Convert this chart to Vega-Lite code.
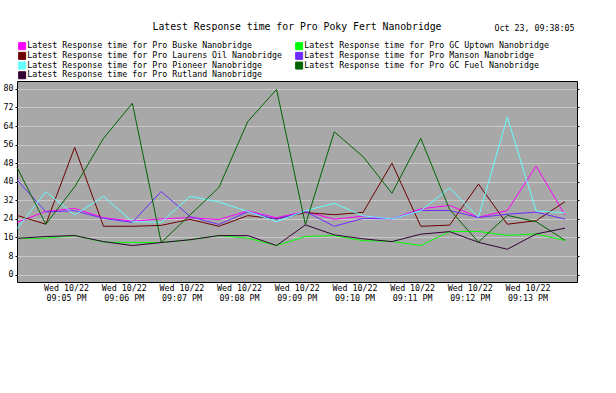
{
"$schema": "https://vega.github.io/schema/vega-lite/v6.json",
"width": 560, "height": 201,
"autosize": {"type": "none"},
"padding": {"left": 17, "top": 81, "right": 39, "bottom": 111},
"background": "white",
"title": {"text": "Latest Response time for Pro Poky Fert Nanobridge", "font": "DejaVu Sans Mono", "fontSize": 9.8, "fontWeight": "normal", "color": "black", "anchor": "middle", "offset": -9},
"config": {"view": {"fill": "#a8a8a8", "stroke": "black", "strokeWidth": 1}, "font": "DejaVu Sans Mono"},
"datasets": {"d": [
{"series":"Latest Response time for Pro Buske Nanobridge","time":"2025-10-22T21:04:09Z","value":22.5},
{"series":"Latest Response time for Pro Buske Nanobridge","time":"2025-10-22T21:04:39Z","value":27.2},
{"series":"Latest Response time for Pro Buske Nanobridge","time":"2025-10-22T21:05:09Z","value":28.5},
{"series":"Latest Response time for Pro Buske Nanobridge","time":"2025-10-22T21:05:39Z","value":24.5},
{"series":"Latest Response time for Pro Buske Nanobridge","time":"2025-10-22T21:06:09Z","value":23},
{"series":"Latest Response time for Pro Buske Nanobridge","time":"2025-10-22T21:06:39Z","value":24},
{"series":"Latest Response time for Pro Buske Nanobridge","time":"2025-10-22T21:07:09Z","value":24.5},
{"series":"Latest Response time for Pro Buske Nanobridge","time":"2025-10-22T21:07:39Z","value":23.7},
{"series":"Latest Response time for Pro Buske Nanobridge","time":"2025-10-22T21:08:09Z","value":27.4},
{"series":"Latest Response time for Pro Buske Nanobridge","time":"2025-10-22T21:08:39Z","value":24.5},
{"series":"Latest Response time for Pro Buske Nanobridge","time":"2025-10-22T21:09:09Z","value":27.2},
{"series":"Latest Response time for Pro Buske Nanobridge","time":"2025-10-22T21:09:39Z","value":23.8},
{"series":"Latest Response time for Pro Buske Nanobridge","time":"2025-10-22T21:10:09Z","value":25.2},
{"series":"Latest Response time for Pro Buske Nanobridge","time":"2025-10-22T21:10:39Z","value":24},
{"series":"Latest Response time for Pro Buske Nanobridge","time":"2025-10-22T21:11:09Z","value":28.3},
{"series":"Latest Response time for Pro Buske Nanobridge","time":"2025-10-22T21:11:39Z","value":29.8},
{"series":"Latest Response time for Pro Buske Nanobridge","time":"2025-10-22T21:12:09Z","value":24.7},
{"series":"Latest Response time for Pro Buske Nanobridge","time":"2025-10-22T21:12:39Z","value":27.6},
{"series":"Latest Response time for Pro Buske Nanobridge","time":"2025-10-22T21:13:09Z","value":46.7},
{"series":"Latest Response time for Pro Buske Nanobridge","time":"2025-10-22T21:13:39Z","value":25.7},
{"series":"Latest Response time for Pro GC Uptown Nanobridge","time":"2025-10-22T21:04:09Z","value":15.6},
{"series":"Latest Response time for Pro GC Uptown Nanobridge","time":"2025-10-22T21:04:39Z","value":15.7},
{"series":"Latest Response time for Pro GC Uptown Nanobridge","time":"2025-10-22T21:05:09Z","value":16.8},
{"series":"Latest Response time for Pro GC Uptown Nanobridge","time":"2025-10-22T21:05:39Z","value":14},
{"series":"Latest Response time for Pro GC Uptown Nanobridge","time":"2025-10-22T21:06:09Z","value":13.8},
{"series":"Latest Response time for Pro GC Uptown Nanobridge","time":"2025-10-22T21:06:39Z","value":13.8},
{"series":"Latest Response time for Pro GC Uptown Nanobridge","time":"2025-10-22T21:07:09Z","value":15},
{"series":"Latest Response time for Pro GC Uptown Nanobridge","time":"2025-10-22T21:07:39Z","value":16.8},
{"series":"Latest Response time for Pro GC Uptown Nanobridge","time":"2025-10-22T21:08:09Z","value":15.7},
{"series":"Latest Response time for Pro GC Uptown Nanobridge","time":"2025-10-22T21:08:39Z","value":12.5},
{"series":"Latest Response time for Pro GC Uptown Nanobridge","time":"2025-10-22T21:09:09Z","value":16.4},
{"series":"Latest Response time for Pro GC Uptown Nanobridge","time":"2025-10-22T21:09:39Z","value":16.8},
{"series":"Latest Response time for Pro GC Uptown Nanobridge","time":"2025-10-22T21:10:09Z","value":14.6},
{"series":"Latest Response time for Pro GC Uptown Nanobridge","time":"2025-10-22T21:10:39Z","value":14.3},
{"series":"Latest Response time for Pro GC Uptown Nanobridge","time":"2025-10-22T21:11:09Z","value":12.5},
{"series":"Latest Response time for Pro GC Uptown Nanobridge","time":"2025-10-22T21:11:39Z","value":18.5},
{"series":"Latest Response time for Pro GC Uptown Nanobridge","time":"2025-10-22T21:12:09Z","value":18.6},
{"series":"Latest Response time for Pro GC Uptown Nanobridge","time":"2025-10-22T21:12:39Z","value":16.9},
{"series":"Latest Response time for Pro GC Uptown Nanobridge","time":"2025-10-22T21:13:09Z","value":17.5},
{"series":"Latest Response time for Pro GC Uptown Nanobridge","time":"2025-10-22T21:13:39Z","value":14.7},
{"series":"Latest Response time for Pro Laurens Oil Nanobridge","time":"2025-10-22T21:04:09Z","value":25.5},
{"series":"Latest Response time for Pro Laurens Oil Nanobridge","time":"2025-10-22T21:04:39Z","value":21.7},
{"series":"Latest Response time for Pro Laurens Oil Nanobridge","time":"2025-10-22T21:05:09Z","value":54.8},
{"series":"Latest Response time for Pro Laurens Oil Nanobridge","time":"2025-10-22T21:05:39Z","value":20.8},
{"series":"Latest Response time for Pro Laurens Oil Nanobridge","time":"2025-10-22T21:06:09Z","value":20.8},
{"series":"Latest Response time for Pro Laurens Oil Nanobridge","time":"2025-10-22T21:06:39Z","value":21.2},
{"series":"Latest Response time for Pro Laurens Oil Nanobridge","time":"2025-10-22T21:07:09Z","value":23.8},
{"series":"Latest Response time for Pro Laurens Oil Nanobridge","time":"2025-10-22T21:07:39Z","value":20.8},
{"series":"Latest Response time for Pro Laurens Oil Nanobridge","time":"2025-10-22T21:08:09Z","value":25.4},
{"series":"Latest Response time for Pro Laurens Oil Nanobridge","time":"2025-10-22T21:08:39Z","value":24},
{"series":"Latest Response time for Pro Laurens Oil Nanobridge","time":"2025-10-22T21:09:09Z","value":26.7},
{"series":"Latest Response time for Pro Laurens Oil Nanobridge","time":"2025-10-22T21:09:39Z","value":25.8},
{"series":"Latest Response time for Pro Laurens Oil Nanobridge","time":"2025-10-22T21:10:09Z","value":26.8},
{"series":"Latest Response time for Pro Laurens Oil Nanobridge","time":"2025-10-22T21:10:39Z","value":48},
{"series":"Latest Response time for Pro Laurens Oil Nanobridge","time":"2025-10-22T21:11:09Z","value":20.8},
{"series":"Latest Response time for Pro Laurens Oil Nanobridge","time":"2025-10-22T21:11:39Z","value":21.3},
{"series":"Latest Response time for Pro Laurens Oil Nanobridge","time":"2025-10-22T21:12:09Z","value":39},
{"series":"Latest Response time for Pro Laurens Oil Nanobridge","time":"2025-10-22T21:12:39Z","value":21.7},
{"series":"Latest Response time for Pro Laurens Oil Nanobridge","time":"2025-10-22T21:13:09Z","value":23.2},
{"series":"Latest Response time for Pro Laurens Oil Nanobridge","time":"2025-10-22T21:13:39Z","value":31.4},
{"series":"Latest Response time for Pro Manson Nanobridge","time":"2025-10-22T21:04:09Z","value":40.8},
{"series":"Latest Response time for Pro Manson Nanobridge","time":"2025-10-22T21:04:39Z","value":27},
{"series":"Latest Response time for Pro Manson Nanobridge","time":"2025-10-22T21:05:09Z","value":27.5},
{"series":"Latest Response time for Pro Manson Nanobridge","time":"2025-10-22T21:05:39Z","value":24.2},
{"series":"Latest Response time for Pro Manson Nanobridge","time":"2025-10-22T21:06:09Z","value":22.5},
{"series":"Latest Response time for Pro Manson Nanobridge","time":"2025-10-22T21:06:39Z","value":35.8},
{"series":"Latest Response time for Pro Manson Nanobridge","time":"2025-10-22T21:07:09Z","value":25},
{"series":"Latest Response time for Pro Manson Nanobridge","time":"2025-10-22T21:07:39Z","value":21.6},
{"series":"Latest Response time for Pro Manson Nanobridge","time":"2025-10-22T21:08:09Z","value":27},
{"series":"Latest Response time for Pro Manson Nanobridge","time":"2025-10-22T21:08:39Z","value":23.8},
{"series":"Latest Response time for Pro Manson Nanobridge","time":"2025-10-22T21:09:09Z","value":27.2},
{"series":"Latest Response time for Pro Manson Nanobridge","time":"2025-10-22T21:09:39Z","value":20.8},
{"series":"Latest Response time for Pro Manson Nanobridge","time":"2025-10-22T21:10:09Z","value":24.2},
{"series":"Latest Response time for Pro Manson Nanobridge","time":"2025-10-22T21:10:39Z","value":24},
{"series":"Latest Response time for Pro Manson Nanobridge","time":"2025-10-22T21:11:09Z","value":27.6},
{"series":"Latest Response time for Pro Manson Nanobridge","time":"2025-10-22T21:11:39Z","value":27.6},
{"series":"Latest Response time for Pro Manson Nanobridge","time":"2025-10-22T21:12:09Z","value":24.6},
{"series":"Latest Response time for Pro Manson Nanobridge","time":"2025-10-22T21:12:39Z","value":26},
{"series":"Latest Response time for Pro Manson Nanobridge","time":"2025-10-22T21:13:09Z","value":26.9},
{"series":"Latest Response time for Pro Manson Nanobridge","time":"2025-10-22T21:13:39Z","value":23.9},
{"series":"Latest Response time for Pro Pioneer Nanobridge","time":"2025-10-22T21:04:09Z","value":19.8},
{"series":"Latest Response time for Pro Pioneer Nanobridge","time":"2025-10-22T21:04:39Z","value":35.7},
{"series":"Latest Response time for Pro Pioneer Nanobridge","time":"2025-10-22T21:05:09Z","value":25.7},
{"series":"Latest Response time for Pro Pioneer Nanobridge","time":"2025-10-22T21:05:39Z","value":33.7},
{"series":"Latest Response time for Pro Pioneer Nanobridge","time":"2025-10-22T21:06:09Z","value":22.8},
{"series":"Latest Response time for Pro Pioneer Nanobridge","time":"2025-10-22T21:06:39Z","value":22.5},
{"series":"Latest Response time for Pro Pioneer Nanobridge","time":"2025-10-22T21:07:09Z","value":33.7},
{"series":"Latest Response time for Pro Pioneer Nanobridge","time":"2025-10-22T21:07:39Z","value":31.3},
{"series":"Latest Response time for Pro Pioneer Nanobridge","time":"2025-10-22T21:08:09Z","value":27.2},
{"series":"Latest Response time for Pro Pioneer Nanobridge","time":"2025-10-22T21:08:39Z","value":22.8},
{"series":"Latest Response time for Pro Pioneer Nanobridge","time":"2025-10-22T21:09:09Z","value":27.5},
{"series":"Latest Response time for Pro Pioneer Nanobridge","time":"2025-10-22T21:09:39Z","value":30.7},
{"series":"Latest Response time for Pro Pioneer Nanobridge","time":"2025-10-22T21:10:09Z","value":25.3},
{"series":"Latest Response time for Pro Pioneer Nanobridge","time":"2025-10-22T21:10:39Z","value":24},
{"series":"Latest Response time for Pro Pioneer Nanobridge","time":"2025-10-22T21:11:09Z","value":27.5},
{"series":"Latest Response time for Pro Pioneer Nanobridge","time":"2025-10-22T21:11:39Z","value":37.3},
{"series":"Latest Response time for Pro Pioneer Nanobridge","time":"2025-10-22T21:12:09Z","value":24.7},
{"series":"Latest Response time for Pro Pioneer Nanobridge","time":"2025-10-22T21:12:39Z","value":67.8},
{"series":"Latest Response time for Pro Pioneer Nanobridge","time":"2025-10-22T21:13:09Z","value":27.4},
{"series":"Latest Response time for Pro Pioneer Nanobridge","time":"2025-10-22T21:13:39Z","value":26.6},
{"series":"Latest Response time for Pro GC Fuel Nanobridge","time":"2025-10-22T21:04:09Z","value":46.2},
{"series":"Latest Response time for Pro GC Fuel Nanobridge","time":"2025-10-22T21:04:39Z","value":21.7},
{"series":"Latest Response time for Pro GC Fuel Nanobridge","time":"2025-10-22T21:05:09Z","value":37.8},
{"series":"Latest Response time for Pro GC Fuel Nanobridge","time":"2025-10-22T21:05:39Z","value":58.7},
{"series":"Latest Response time for Pro GC Fuel Nanobridge","time":"2025-10-22T21:06:09Z","value":73.8},
{"series":"Latest Response time for Pro GC Fuel Nanobridge","time":"2025-10-22T21:06:39Z","value":13.8},
{"series":"Latest Response time for Pro GC Fuel Nanobridge","time":"2025-10-22T21:07:09Z","value":25.7},
{"series":"Latest Response time for Pro GC Fuel Nanobridge","time":"2025-10-22T21:07:39Z","value":37.5},
{"series":"Latest Response time for Pro GC Fuel Nanobridge","time":"2025-10-22T21:08:09Z","value":65.9},
{"series":"Latest Response time for Pro GC Fuel Nanobridge","time":"2025-10-22T21:08:39Z","value":79.8},
{"series":"Latest Response time for Pro GC Fuel Nanobridge","time":"2025-10-22T21:09:09Z","value":21.5},
{"series":"Latest Response time for Pro GC Fuel Nanobridge","time":"2025-10-22T21:09:39Z","value":61.5},
{"series":"Latest Response time for Pro GC Fuel Nanobridge","time":"2025-10-22T21:10:09Z","value":50.8},
{"series":"Latest Response time for Pro GC Fuel Nanobridge","time":"2025-10-22T21:10:39Z","value":35},
{"series":"Latest Response time for Pro GC Fuel Nanobridge","time":"2025-10-22T21:11:09Z","value":58.7},
{"series":"Latest Response time for Pro GC Fuel Nanobridge","time":"2025-10-22T21:11:39Z","value":28},
{"series":"Latest Response time for Pro GC Fuel Nanobridge","time":"2025-10-22T21:12:09Z","value":14},
{"series":"Latest Response time for Pro GC Fuel Nanobridge","time":"2025-10-22T21:12:39Z","value":25.5},
{"series":"Latest Response time for Pro GC Fuel Nanobridge","time":"2025-10-22T21:13:09Z","value":22.8},
{"series":"Latest Response time for Pro GC Fuel Nanobridge","time":"2025-10-22T21:13:39Z","value":14.8},
{"series":"Latest Response time for Pro Rutland Nanobridge","time":"2025-10-22T21:04:09Z","value":15.6},
{"series":"Latest Response time for Pro Rutland Nanobridge","time":"2025-10-22T21:04:39Z","value":16.4},
{"series":"Latest Response time for Pro Rutland Nanobridge","time":"2025-10-22T21:05:09Z","value":16.8},
{"series":"Latest Response time for Pro Rutland Nanobridge","time":"2025-10-22T21:05:39Z","value":14.2},
{"series":"Latest Response time for Pro Rutland Nanobridge","time":"2025-10-22T21:06:09Z","value":12.5},
{"series":"Latest Response time for Pro Rutland Nanobridge","time":"2025-10-22T21:06:39Z","value":13.8},
{"series":"Latest Response time for Pro Rutland Nanobridge","time":"2025-10-22T21:07:09Z","value":15},
{"series":"Latest Response time for Pro Rutland Nanobridge","time":"2025-10-22T21:07:39Z","value":16.8},
{"series":"Latest Response time for Pro Rutland Nanobridge","time":"2025-10-22T21:08:09Z","value":16.8},
{"series":"Latest Response time for Pro Rutland Nanobridge","time":"2025-10-22T21:08:39Z","value":12.5},
{"series":"Latest Response time for Pro Rutland Nanobridge","time":"2025-10-22T21:09:09Z","value":21.4},
{"series":"Latest Response time for Pro Rutland Nanobridge","time":"2025-10-22T21:09:39Z","value":17.1},
{"series":"Latest Response time for Pro Rutland Nanobridge","time":"2025-10-22T21:10:09Z","value":15.4},
{"series":"Latest Response time for Pro Rutland Nanobridge","time":"2025-10-22T21:10:39Z","value":14.2},
{"series":"Latest Response time for Pro Rutland Nanobridge","time":"2025-10-22T21:11:09Z","value":17.4},
{"series":"Latest Response time for Pro Rutland Nanobridge","time":"2025-10-22T21:11:39Z","value":18.5},
{"series":"Latest Response time for Pro Rutland Nanobridge","time":"2025-10-22T21:12:09Z","value":13.9},
{"series":"Latest Response time for Pro Rutland Nanobridge","time":"2025-10-22T21:12:39Z","value":10.9},
{"series":"Latest Response time for Pro Rutland Nanobridge","time":"2025-10-22T21:13:09Z","value":17.5},
{"series":"Latest Response time for Pro Rutland Nanobridge","time":"2025-10-22T21:13:39Z","value":20}
]},
"data": {"name": "d"},
"layer": [
 {"mark": {"type": "line", "strokeWidth": 1},
  "encoding": {
  "x": {"field": "time", "type": "temporal",
    "scale": {"type": "utc", "domain": [{"year": 2025, "month": 10, "date": 22, "hours": 21, "minutes": 4, "seconds": 9, "utc": true}, {"year": 2025, "month": 10, "date": 22, "hours": 21, "minutes": 13, "seconds": 51, "milliseconds": 500, "utc": true}]},
    "axis": {"orient": "bottom", "values": [
      {"year": 2025, "month": 10, "date": 22, "hours": 21, "minutes": 5, "utc": true},
      {"year": 2025, "month": 10, "date": 22, "hours": 21, "minutes": 6, "utc": true},
      {"year": 2025, "month": 10, "date": 22, "hours": 21, "minutes": 7, "utc": true},
      {"year": 2025, "month": 10, "date": 22, "hours": 21, "minutes": 8, "utc": true},
      {"year": 2025, "month": 10, "date": 22, "hours": 21, "minutes": 9, "utc": true},
      {"year": 2025, "month": 10, "date": 22, "hours": 21, "minutes": 10, "utc": true},
      {"year": 2025, "month": 10, "date": 22, "hours": 21, "minutes": 11, "utc": true},
      {"year": 2025, "month": 10, "date": 22, "hours": 21, "minutes": 12, "utc": true},
      {"year": 2025, "month": 10, "date": 22, "hours": 21, "minutes": 13, "utc": true}],
      "format": "%a %m/%d", "labelFont": "DejaVu Sans Mono", "labelFontSize": 8.3, "labelColor": "black", "labelPadding": 1, "ticks": false, "grid": false, "domain": false,
      "title": "Oct 23, 09:38:05", "titleFont": "DejaVu Sans Mono", "titleFontSize": 8.3, "titleFontWeight": "normal", "titleColor": "black", "titleAlign": "right", "titleBaseline": "middle", "titleX": 557, "titleY": -254}},
  "y": {"field": "value", "type": "quantitative", "scale": {"domain": [-3.2, 83.4], "nice": false, "zero": false},
    "axis": {"orient": "left", "values": [0, 8, 16, 24, 32, 40, 48, 56, 64, 72, 80], "grid": true, "gridColor": "#c8c8c8", "gridWidth": 1, "gridOpacity": 1, "domain": false, "ticks": true, "tickSize": 2, "tickColor": "black", "labelFont": "DejaVu Sans Mono", "labelFontSize": 8.3, "labelColor": "black", "labelPadding": 2, "title": null}},
  "color": {"field": "series", "type": "nominal",
    "scale": {"domain": ["Latest Response time for Pro Buske Nanobridge", "Latest Response time for Pro GC Uptown Nanobridge", "Latest Response time for Pro Laurens Oil Nanobridge", "Latest Response time for Pro Manson Nanobridge", "Latest Response time for Pro Pioneer Nanobridge", "Latest Response time for Pro GC Fuel Nanobridge", "Latest Response time for Pro Rutland Nanobridge"],
              "range": ["#ff00ff", "#00ff00", "#6e0000", "#6f2cff", "#66ffff", "#006400", "#350035"]},
    "legend": {"orient": "none", "legendX": 1, "legendY": -39, "columns": 2, "direction": "horizontal", "gridAlign": "none", "title": null, "padding": 0,
      "symbolType": "square", "symbolSize": 49, "symbolStrokeWidth": 1, "labelFont": "DejaVu Sans Mono", "labelFontSize": 8.3, "labelColor": "black", "labelOffset": 1, "labelLimit": 400, "columnPadding": 10, "rowPadding": -2.3,
      "encode": {"symbols": {"update": {"fill": {"scale": "color", "field": "value"}, "stroke": {"value": "black"}}}}}}
  }},
 {"mark": {"type": "line", "opacity": 0},
  "encoding": {
  "x": {"field": "time", "type": "temporal",
    "axis": {"orient": "bottom", "values": [
      {"year": 2025, "month": 10, "date": 22, "hours": 21, "minutes": 5, "utc": true},
      {"year": 2025, "month": 10, "date": 22, "hours": 21, "minutes": 6, "utc": true},
      {"year": 2025, "month": 10, "date": 22, "hours": 21, "minutes": 7, "utc": true},
      {"year": 2025, "month": 10, "date": 22, "hours": 21, "minutes": 8, "utc": true},
      {"year": 2025, "month": 10, "date": 22, "hours": 21, "minutes": 9, "utc": true},
      {"year": 2025, "month": 10, "date": 22, "hours": 21, "minutes": 10, "utc": true},
      {"year": 2025, "month": 10, "date": 22, "hours": 21, "minutes": 11, "utc": true},
      {"year": 2025, "month": 10, "date": 22, "hours": 21, "minutes": 12, "utc": true},
      {"year": 2025, "month": 10, "date": 22, "hours": 21, "minutes": 13, "utc": true}],
      "format": "%I:%M %p", "labelFont": "DejaVu Sans Mono", "labelFontSize": 8.3, "labelColor": "black", "labelPadding": 11, "ticks": false, "grid": false, "domain": false, "title": null}},
  "y": {"field": "value", "type": "quantitative",
    "axis": {"orient": "right", "values": [0, 8, 16, 24, 32, 40, 48, 56, 64, 72, 80], "labels": false, "grid": false, "domain": false, "ticks": true, "tickSize": 2, "tickColor": "black", "title": null}},
  "detail": {"field": "series", "type": "nominal"}
  }}
],
"resolve": {"axis": {"x": "independent", "y": "independent"}}
}
